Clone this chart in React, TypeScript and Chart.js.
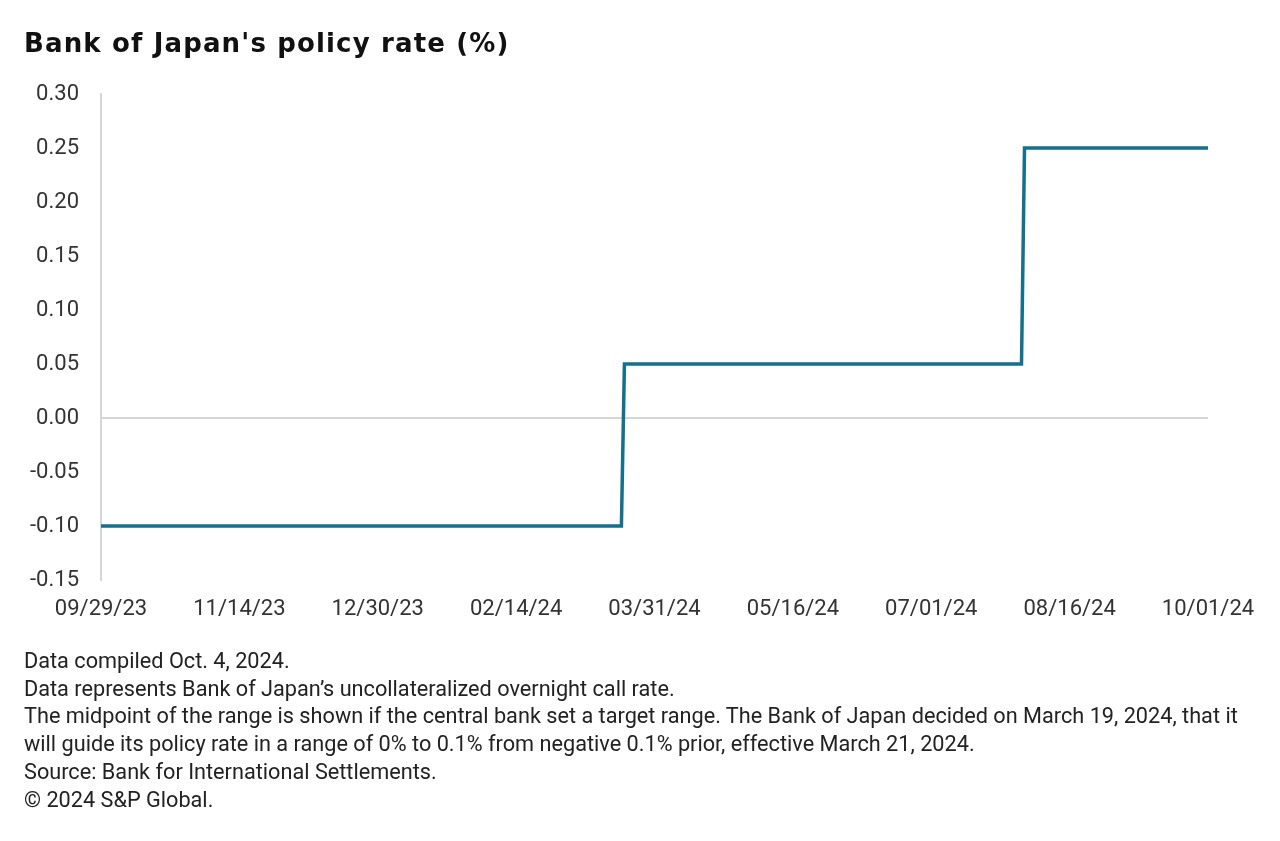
import React, { useEffect, useRef } from "react";
import { Chart, registerables } from "chart.js";

Chart.register(...registerables);

// ---- data ----
const startDate = "2023-09-29";
const changeDates = ["2023-09-29", "2024-03-20", "2024-03-21", "2024-07-31", "2024-08-01", "2024-10-01"];
const policyRates = [-0.1, -0.1, 0.05, 0.05, 0.25, 0.25];
const xTickLabels = ["09/29/23", "11/14/23", "12/30/23", "02/14/24", "03/31/24", "05/16/24", "07/01/24", "08/16/24", "10/01/24"];
const xTickStepDays = 46;
const yMin = -0.15;
const yMax = 0.3;
const yStep = 0.05;

const titleText = "Bank of Japan's policy rate (%)";
const footnotes = [
  "Data compiled Oct. 4, 2024.",
  "Data represents Bank of Japan\u2019s uncollateralized overnight call rate.",
  "The midpoint of the range is shown if the central bank set a target range. The Bank of Japan decided on March 19, 2024, that it",
  "will guide its policy rate in a range of 0% to 0.1% from negative 0.1% prior, effective March 21, 2024.",
  "Source: Bank for International Settlements.",
  "\u00a9 2024 S&P Global.",
];

const DAY = 86400000;
const toDay = (s: string) => {
  const [y, m, d] = s.split("-").map(Number);
  const [y0, m0, d0] = startDate.split("-").map(Number);
  return Math.round((Date.UTC(y, m - 1, d) - Date.UTC(y0, m0 - 1, d0)) / DAY);
};

const FONT = "Roboto, 'Noto Sans', sans-serif";
const TITLE_FONT = "'DejaVu Sans', 'Noto Sans', sans-serif";

export default function App() {
  const canvasRef = useRef<HTMLCanvasElement | null>(null);

  useEffect(() => {
    if (!canvasRef.current) return;
    const points = changeDates.map((d, i) => ({ x: toDay(d), y: policyRates[i] }));
    const lastDay = (xTickLabels.length - 1) * xTickStepDays;
    const chart = new Chart(canvasRef.current, {
      type: "line",
      data: {
        datasets: [
          {
            data: points,
            borderColor: "#14708c",
            borderWidth: 3.5,
            pointRadius: 0,
            tension: 0,
            fill: false,
            borderCapStyle: "round",
          },
        ],
      },
      options: {
        animation: false,
        responsive: true,
        maintainAspectRatio: false,
        layout: { padding: { left: 0, right: 72, top: 94, bottom: 201 } },
        plugins: { legend: { display: false }, tooltip: { enabled: false }, title: { display: false } },
        scales: {
          x: {
            type: "linear",
            min: 0,
            max: lastDay,
            afterFit: (s: any) => {
              s.height = 60;
            },
            ticks: {
              stepSize: xTickStepDays,
              autoSkip: false,
              maxRotation: 0,
              padding: 16,
              color: "#333333",
              font: { family: FONT, size: 22 },
              callback: (v: any) => xTickLabels[Math.round(Number(v) / xTickStepDays)] ?? "",
            },
            grid: { display: false, drawTicks: false },
            border: { display: false },
          },
          y: {
            min: yMin,
            max: yMax,
            afterFit: (s: any) => {
              s.width = 101;
            },
            ticks: {
              stepSize: yStep,
              padding: 22,
              color: "#333333",
              font: { family: FONT, size: 22 },
              callback: (v: any) => Number(v).toFixed(2),
            },
            grid: {
              drawTicks: false,
              lineWidth: 2,
              color: (ctx: any) => (Math.abs(ctx.tick?.value ?? 1) < 1e-9 ? "#d6d6d6" : "rgba(0,0,0,0)"),
            },
            border: { display: true, color: "#d6d6d6", width: 2 },
          },
        },
      },
    });
    return () => chart.destroy();
  }, []);

  return (
    <div style={{ position: "absolute", left: 0, top: 0, width: 1280, height: 841, background: "#fff", overflow: "hidden" }}>
      <div style={{ position: "absolute", left: 0, top: 0, width: 1280, height: 841 }}>
        <canvas ref={canvasRef} />
      </div>
      <div
        style={{
          position: "absolute",
          left: 24,
          top: 25,
          fontFamily: TITLE_FONT,
          fontSize: 26,
          fontWeight: 700,
          letterSpacing: "1.15px",
          color: "#111",
          whiteSpace: "nowrap",
          lineHeight: "36px",
        }}
      >
        {titleText}
      </div>
      <div
        style={{
          position: "absolute",
          left: 24,
          top: 647,
          fontFamily: FONT,
          fontSize: 21.7,
          color: "#222",
          lineHeight: "27.7px",
          whiteSpace: "nowrap",
        }}
      >
        {footnotes.map((f, i) => (
          <div key={i}>{f}</div>
        ))}
      </div>
    </div>
  );
}
